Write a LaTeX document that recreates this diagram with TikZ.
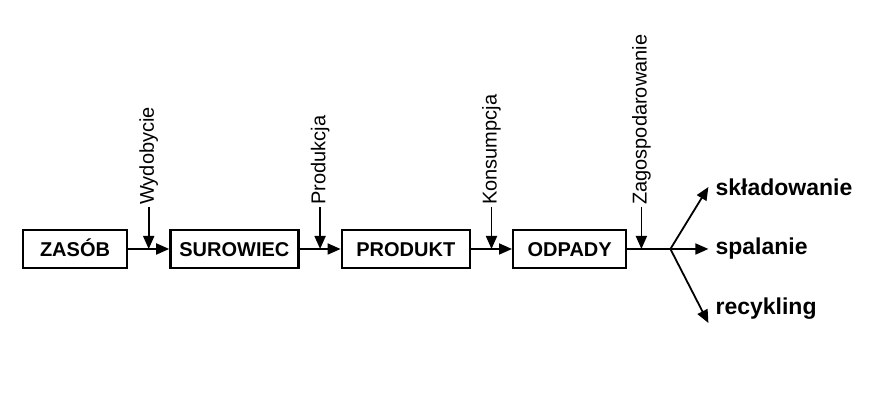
\documentclass[tikz,border=0pt]{standalone}
\usepackage{fontspec}
\setmainfont{Liberation Sans}
\usetikzlibrary{arrows.meta,positioning,calc}
\tikzset{
  flow/box/.style={draw, rectangle, line width=2.4pt, minimum height=38pt, inner sep=0pt, text height=14.5pt, text depth=0pt, align=center, font=\fontsize{20}{24}\selectfont\bfseries},
  flow/line/.style={line width=1.8pt},
  flow/arrow/.style={flow/line, -{Triangle[length=13pt,width=11pt]}},
  flow/stage/.style={rotate=90, anchor=west, inner sep=2pt, font=\fontsize{20}{24}\selectfont},
  flow/out/.style={inner xsep=7pt, inner ysep=3pt, font=\fontsize{23}{28}\selectfont\bfseries}
}

\begin{document}
\begin{tikzpicture}[x=1pt, y=1pt, node distance=41pt]
  \useasboundingbox (0,0) rectangle (875,403);

  % the chain of states
  \node[flow/box, minimum width=104pt] (zas) at (75,154) {ZASÓB};
  \node[flow/box, minimum width=128pt, right=of zas] (sur) {SUROWIEC};
  \node[flow/box, minimum width=128pt, right=of sur] (prod) {PRODUKT};
  \node[flow/box, minimum width=113pt, right=of prod] (odp) {ODPADY};

  \draw[flow/arrow] (zas) -- (sur);
  \draw[flow/arrow] (sur) -- (prod);
  \draw[flow/arrow] (prod) -- (odp);

  % points where the processes act
  \coordinate (wydp) at ($(zas.east)!0.5!(sur.west)$);
  \coordinate (prop) at ($(sur.east)!0.5!(prod.west)$);
  \coordinate (konp) at ($(prod.east)!0.5!(odp.west)$);
  \coordinate (zagp) at ($(odp.east)+(14,0)$);
  \coordinate (fork) at ($(odp.east)+(43,0)$);

  \node[flow/stage] (wyd) at ($(wydp)+(0,42)$) {Wydobycie};
  \node[flow/stage] (pro) at ($(prop)+(0,42)$) {Produkcja};
  \node[flow/stage] (kon) at ($(konp)+(0,42)$) {Konsumpcja};
  \node[flow/stage] (zag) at ($(zagp)+(0,42)$) {Zagospodarowanie};

  \draw[flow/arrow] (wyd.west) -- (wydp);
  \draw[flow/arrow] (pro.west) -- (prop);
  \draw[flow/arrow] (kon.west) -- (konp);
  \draw[flow/arrow] (zag.west) -- (zagp);

  % what happens to the waste
  \draw[flow/line] (odp) -- (fork);
  \node[flow/out, anchor=west] (skl) at ($(fork)+(38,62)$) {składowanie};
  \node[flow/out, anchor=west] (spa) at ($(fork)+(38,0)$) {spalanie};
  \node[flow/out, anchor=south west] (rec) at ($(fork)+(38,-74)$) {recykling};

  \draw[flow/arrow] (fork) -- (skl.west);
  \draw[flow/arrow] (fork) -- (spa.west);
  \draw[flow/arrow] (fork) -- (rec.south west);
\end{tikzpicture}
\end{document}
